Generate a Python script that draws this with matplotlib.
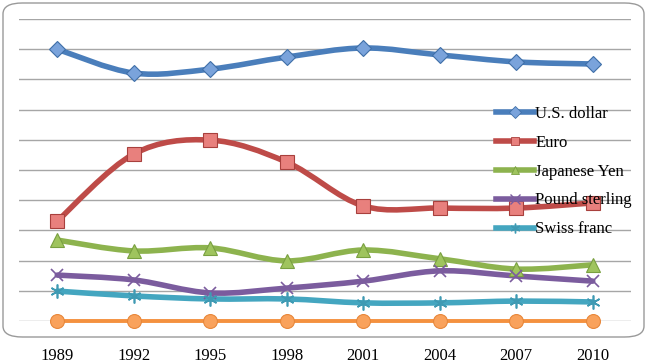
import matplotlib
matplotlib.use("Agg")
import matplotlib.pyplot as plt
from matplotlib.path import Path
from matplotlib.patches import PathPatch, FancyBboxPatch
from matplotlib.lines import Line2D
import numpy as np

years = ["1989", "1992", "1995", "1998", "2001", "2004", "2007", "2010"]
usd = [9.00, 8.21, 8.34, 8.74, 9.04, 8.81, 8.58, 8.51]
euro = [3.31, 5.53, 5.99, 5.26, 3.81, 3.74, 3.74, 3.91]
yen = [2.68, 2.32, 2.42, 1.99, 2.35, 2.06, 1.72, 1.86]
pound = [1.52, 1.36, 0.93, 1.09, 1.32, 1.66, 1.49, 1.32]
swiss = [0.99, 0.83, 0.73, 0.73, 0.60, 0.60, 0.66, 0.63]
other = [0, 0, 0, 0, 0, 0, 0, 0]
labels = ["U.S. dollar", "Euro", "Japanese Yen", "Pound sterling", "Swiss franc"]

W, H = 647, 364
FONT = "Liberation Serif"
fig = plt.figure(figsize=(W / 100, H / 100), dpi=100)
fig.patch.set_facecolor("white")

# rounded chart border
box = FancyBboxPatch((3 / W, 27 / H), 641 / W, 334 / H,
                     boxstyle="round,pad=0,rounding_size=0.03",
                     transform=fig.transFigure, facecolor="none",
                     edgecolor="#9a9a9a", linewidth=1.0, zorder=0)
fig.patches.append(box)

ax = fig.add_axes([19 / W, 1 - 321 / H, 612 / W, 302 / H])
ax.set_xlim(-0.5, 7.5)
ax.set_ylim(0, 10)
for s in ax.spines.values():
    s.set_visible(False)
ax.set_yticks(np.arange(0, 11, 1))
ax.yaxis.grid(True, color="#a6a6a6", linewidth=1.0)
ax.set_axisbelow(True)
ax.tick_params(axis="y", left=False, labelleft=False)
ax.set_xticks(range(len(years)))
ax.set_xticklabels(years, fontfamily=FONT, fontsize=12)
ax.tick_params(axis="x", bottom=False, pad=16)
ax.patch.set_alpha(0)

def smooth_path(xs, ys):
    xs = np.asarray(xs, float); ys = np.asarray(ys, float)
    n = len(xs)
    verts = [(xs[0], ys[0])]
    codes = [Path.MOVETO]
    for i in range(n - 1):
        p0 = np.array([xs[max(i - 1, 0)], ys[max(i - 1, 0)]])
        p1 = np.array([xs[i], ys[i]])
        p2 = np.array([xs[i + 1], ys[i + 1]])
        p3 = np.array([xs[min(i + 2, n - 1)], ys[min(i + 2, n - 1)]])
        c1 = p1 + (p2 - p0) / 6.0
        c2 = p2 - (p3 - p1) / 6.0
        verts += [tuple(c1), tuple(c2), tuple(p2)]
        codes += [Path.CURVE4] * 3
    return Path(verts, codes)

series = [
    (usd, "#4a7ebb", "D", 8, "#7aa3db", "#3f6fa8"),
    (euro, "#be4b48", "s", 9.5, "#e8807d", "#a8403d"),
    (yen, "#8db34e", "^", 9.5, "#9fc45e", "#79a040"),
    (pound, "#7b5c9e", "x", 9, "#7b5c9e", "#7b5c9e"),
    (swiss, "#44a6c0", "*", 9, "#55b4cc", "#3f9ab3"),
    (other, "#f4913f", "o", 10, "#f9a25c", "#e8873a"),
]
x = np.arange(len(years))
handles = []
for i, (vals, col, mk, ms, fc, ec) in enumerate(series):
    lw = 4.0 if i < 5 else 2.8
    patch = PathPatch(smooth_path(x, vals), facecolor="none", edgecolor=col,
                      linewidth=lw, capstyle="round", joinstyle="round",
                      zorder=2 + i * 0.1, clip_on=False)
    ax.add_patch(patch)
    if mk == "x":
        ax.plot(x, vals, linestyle="none", marker=mk, markersize=ms,
                markeredgecolor=ec, markeredgewidth=1.2, zorder=3, clip_on=False)
    elif mk == "*":
        ax.plot(x, vals, linestyle="none", marker=(6, 2, 0), markersize=ms + 1,
                markeredgecolor=ec, markeredgewidth=1.2, zorder=3, clip_on=False)
    else:
        ax.plot(x, vals, linestyle="none", marker=mk, markersize=ms,
                markerfacecolor=fc, markeredgecolor=ec, markeredgewidth=0.8,
                zorder=3, clip_on=False)
    if i < 5:
        if mk == "*":
            h = Line2D([], [], color=col, linewidth=4.0, marker=(6, 2, 0),
                       markersize=7, markeredgecolor=ec)
        elif mk == "x":
            h = Line2D([], [], color=col, linewidth=4.0, marker="x",
                       markersize=7, markeredgecolor=ec)
        else:
            h = Line2D([], [], color=col, linewidth=4.0, marker=mk,
                       markersize=6, markerfacecolor=fc, markeredgecolor=ec,
                       markeredgewidth=0.6)
        handles.append(h)

leg = ax.legend(handles, labels, loc="upper left",
                bbox_to_anchor=(496 / W, 1 - 106 / H),
                bbox_transform=fig.transFigure, frameon=False,
                prop={"family": FONT, "size": 12},
                handlelength=2.3, handletextpad=0.05, labelspacing=0.77,
                borderpad=0, borderaxespad=0)
leg.set_zorder(5)

fig.savefig("out.png", dpi=100, facecolor="white")
